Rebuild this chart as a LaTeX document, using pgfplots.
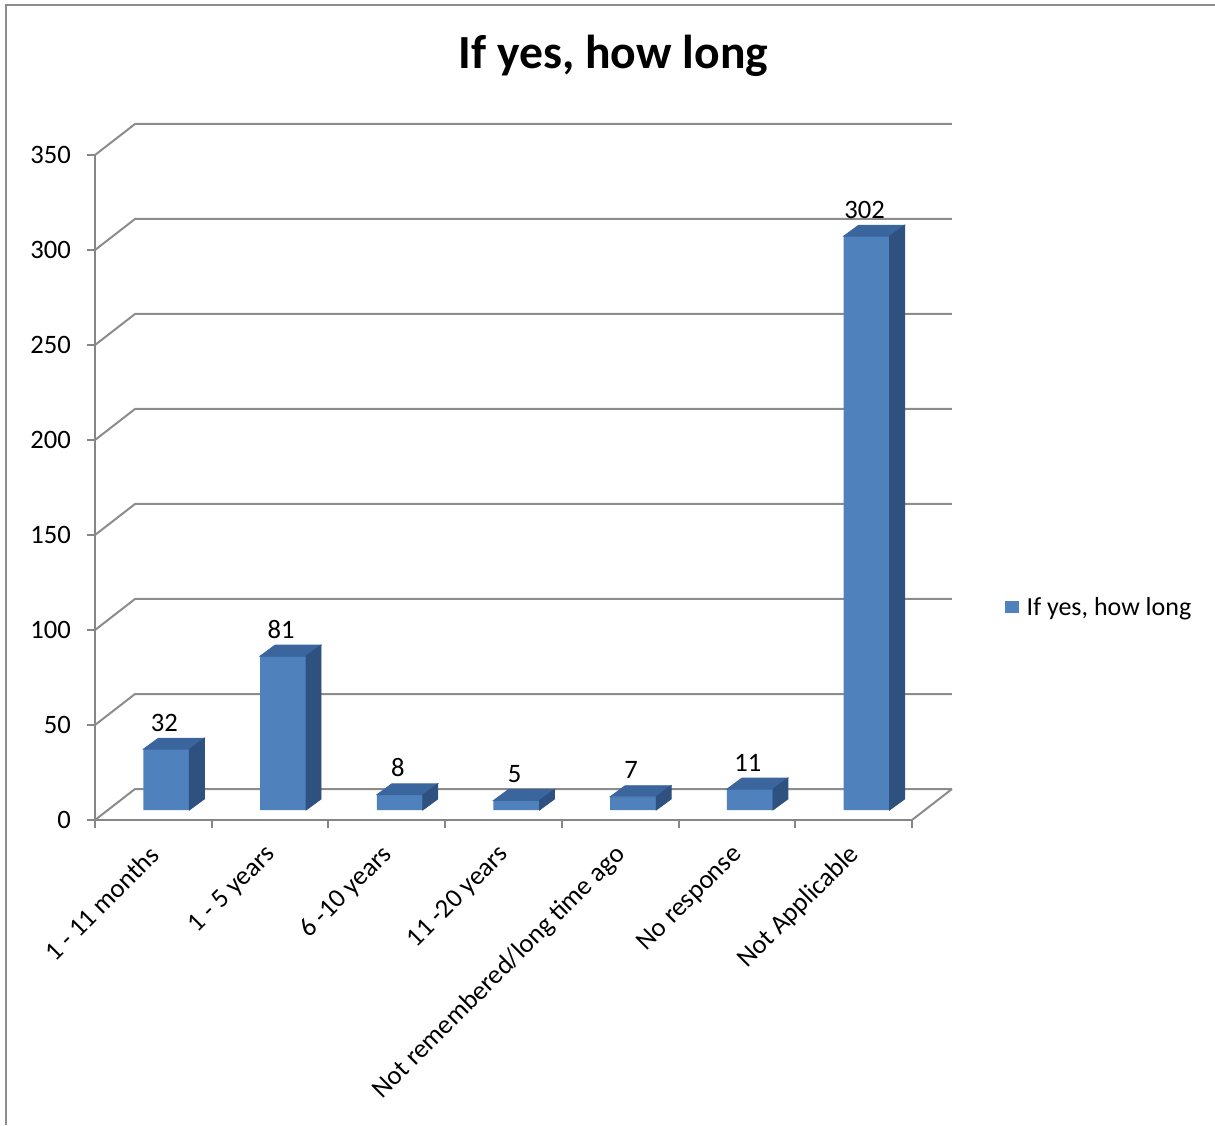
\documentclass[border=0pt]{standalone}
\usepackage{fontspec}
\setmainfont{Carlito}
\usepackage{pgfplots}
\usepackage{pgfplotstable}
\pgfplotsset{compat=1.18}

\definecolor{barfront}{HTML}{4F81BD}
\definecolor{bartop}{HTML}{3B659D}
\definecolor{barside}{HTML}{2E5180}
\definecolor{gridc}{HTML}{8C8C8C}
\definecolor{axisc}{HTML}{868686}

% category position (centre of slot) and count
\pgfplotstableread{
x   v
0.5 32
1.5 81
2.5 8
3.5 5
4.5 7
5.5 11
6.5 302
}\durationdata

\begin{document}
\begin{tikzpicture}
\useasboundingbox (0,0) rectangle (607.5pt,562.5pt);
% chart area border
\draw[gridc, line width=1pt] (3pt,0pt) -- (3pt,560pt) -- (607.5pt,560pt);
% title
\node[anchor=base, font=\fontsize{23.8}{28}\selectfont\bfseries] at (306.75pt,528pt) {If yes, how long};

\begin{axis}[
  at={(47.5pt,152.5pt)}, anchor=south west,
  scale only axis,
  width=408.5pt, height=332.5pt,
  xmin=0, xmax=7, ymin=0, ymax=350,
  clip=false,
  axis lines=left,
  axis line style={-, axisc, line width=1pt},
  tick style={axisc, line width=1pt},
  tick align=outside,
  major tick length=4pt,
  minor tick length=4pt,
  ytick={0,50,...,350},
  xtick={0.5,1.5,...,6.5},
  minor xtick={0,1,...,7},
  major x tick style={draw=none},
  xticklabels={1 - 11 months,1 - 5 years,6 -10 years,11 -20 years,Not remembered/long time ago,No response,Not Applicable},
  /pgf/number format/assume math mode=true,
  ticklabel style={font=\fontsize{13.3}{16}\selectfont},
  yticklabel style={xshift=-4.5pt},
  xticklabel style={anchor=east, rotate=45, xshift=-4.2pt, yshift=-8.5pt},
  legend style={at={(1.113,0.319)}, anchor=west, draw=none, fill=none,
    font=\fontsize{13}{16}\selectfont, inner sep=0pt,
    legend cell align=left},
  legend image code/.code={%
    \fill[barfront] (0pt,-7.8pt) rectangle (7pt,-1.8pt);
    \path (9pt,-5pt);},
]
% back and side walls with their grid lines
\pgfplotsinvokeforeach{0,50,100,150,200,250,300,350}{
  \draw[gridc, line width=1pt] (axis cs:0,#1) -- ++(20pt,15.5pt)
    -- ([shift={(20pt,15.5pt)}]axis cs:7,#1);
}
% right edge of the floor
\draw[gridc, line width=1pt] (axis cs:7,0) -- ++(20pt,15.5pt);

% top and side faces of each column
\addplot[
  forget plot,
  xshift=6.5pt, yshift=5pt,
  scatter, only marks, mark=*, mark size=0pt,
  mark options={draw=none, fill=none},
  visualization depends on={y \as \barval},
  scatter/@pre marker code/.code={%
    \pgfmathsetlengthmacro\barh{\barval*0.95pt}%
    \fill[bartop] (-11.5pt,0pt) -- (11.5pt,0pt) -- (19pt,5.5pt) -- (-4pt,5.5pt) -- cycle;
    \fill[barside] (11.5pt,0pt) -- (19pt,5.5pt) -- (19pt,{5.5pt-\barh}) -- (11.5pt,{-\barh}) -- cycle;
  },
  scatter/@post marker code/.code={},
] table[x=x, y=v] {\durationdata};

% front faces with value labels
\addplot[
  ybar, bar width=23pt, bar shift=0pt,
  xshift=6.5pt, yshift=5pt,
  fill=barfront, draw=none,
  nodes near coords,
  nodes near coords style={anchor=base, yshift=9pt, xshift=-1pt,
    font=\fontsize{13.3}{16}\selectfont, text=black},
] table[x=x, y=v] {\durationdata};
\addlegendentry{If yes, how long}
\end{axis}
\end{tikzpicture}
\end{document}
